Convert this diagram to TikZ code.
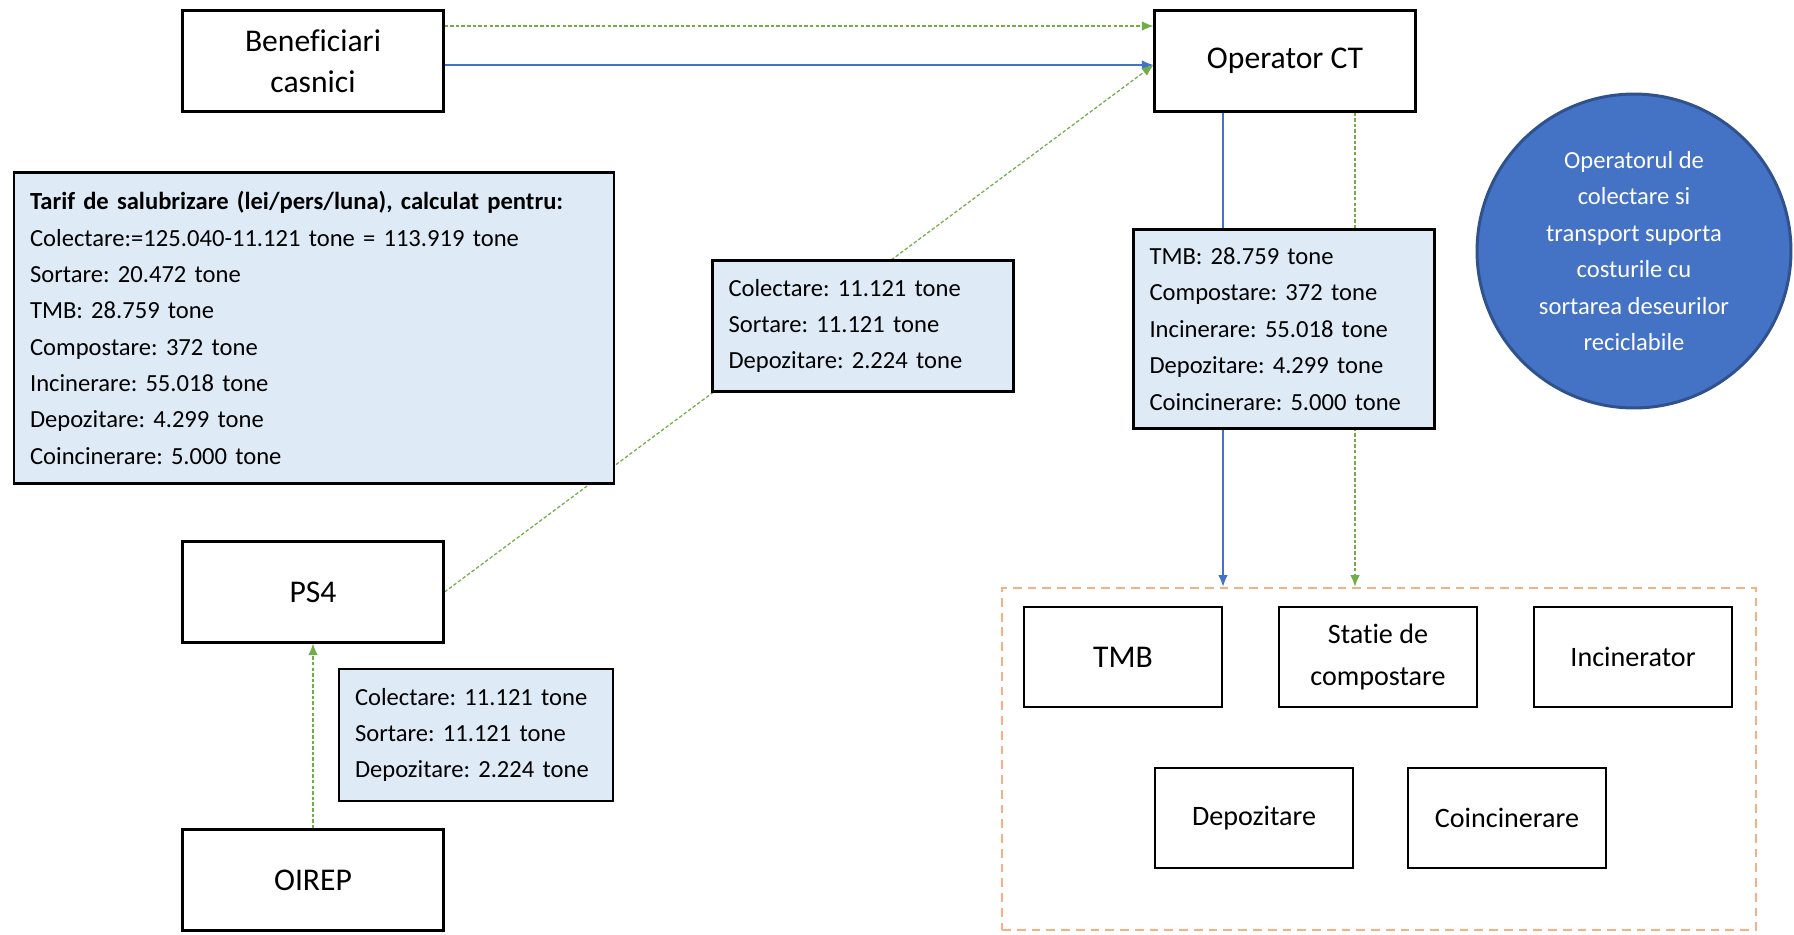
\documentclass[tikz,border=0pt]{standalone}
\usepackage{fontspec}
\setmainfont{Carlito}[Ligatures=NoCommon]
\frenchspacing
\usetikzlibrary{arrows.meta,backgrounds}
\definecolor{verdeflux}{HTML}{70AD47}
\definecolor{albastruflux}{HTML}{4472C4}
\definecolor{albastruinchis}{HTML}{2F528F}
\definecolor{portocaliu}{HTML}{F4B183}
\definecolor{fondcaseta}{HTML}{DEEBF7}
\begin{document}
\begin{tikzpicture}[x=0.02cm,y=-0.02cm,>={Latex[length=2.3mm,width=1.9mm]},
		actor/.style={draw=black, line width=1.2pt, fill=white, minimum width=5.22cm,
			minimum height=2.02cm, inner sep=0pt, align=center, font=\fontsize{18}{23.3}\selectfont},
		instalatie/.style={actor, minimum width=3.96cm, minimum height=2cm,
			font=\fontsize{16}{24}\selectfont},
		cantitati/.style={draw=black, line width=1.2pt, fill=fondcaseta, inner xsep=0.32cm,
			inner ysep=0pt, align=left, font=\fontsize{14}{20.7}\selectfont},
		fluxbani/.style={->, albastruflux, line width=0.7pt},
		fluxdeseu/.style={->, verdeflux, line width=0.7pt, dash pattern=on 2pt off 1.2pt},
		]
	\useasboundingbox (0,0) rectangle (1794,934);
	
	% ── Actori ──
	\node[actor] (benef)    at (313,61)  {Beneficiari\\casnici};
	\node[actor] (operator) at (1285,61) {Operator CT};
	\node[actor] (ps4)      at (313,592) {PS4};
	\node[actor] (oirep)    at (313,880) {OIREP};
	
	% ── Casete cu cantitati ──
	\node[cantitati, text width=11.36cm, minimum height=6.22cm] (tarif) at (314,328)
	{\textbf{Tarif de salubrizare (lei/pers/luna), calculat pentru:}\\
		Colectare:=125.040-11.121 tone = 113.919 tone\\
		Sortare: 20.472 tone\\
		TMB: 28.759 tone\\
		Compostare: 372 tone\\
		Incinerare: 55.018 tone\\
		Depozitare: 4.299 tone\\
		Coincinerare: 5.000 tone};
	\node[cantitati, text width=5.38cm, minimum height=2.62cm] (ps4sus) at (863,326)
	{Colectare: 11.121 tone\\Sortare: 11.121 tone\\Depozitare: 2.224 tone};
	\node[cantitati, text width=5.38cm, minimum height=3.98cm] (opct) at (1284,329)
	{TMB: 28.759 tone\\Compostare: 372 tone\\Incinerare: 55.018 tone\\
		Depozitare: 4.299 tone\\Coincinerare: 5.000 tone};
	\node[cantitati, text width=4.84cm, minimum height=2.64cm] (ps4jos) at (476,735)
	{Colectare: 11.121 tone\\Sortare: 11.121 tone\\Depozitare: 2.224 tone};
	
	% ── Nota (cerc) ──
	\node[circle, draw=albastruinchis, line width=1.7pt, fill=albastruflux, text=white,
	minimum size=6.28cm, inner sep=0pt, align=center,
	font=\fontsize{14}{20.7}\selectfont] (nota) at (1634,251)
	{Operatorul de\\colectare si\\transport suporta\\costurile cu\\sortarea deseurilor\\reciclabile};
	
	% ── Instalatii de tratare ──
	\node[draw=portocaliu, line width=1.6pt, dash pattern=on 5pt off 3.4pt,
	minimum width=15.08cm, minimum height=6.84cm, inner sep=0pt] (zona) at (1379,759) {};
	\node[instalatie, font=\fontsize{18}{23}\selectfont] (tmb) at (1123,657) {TMB};
	\node[instalatie] (compost) at (1378,657) {Statie de\\compostare};
	\node[instalatie] (incin)   at (1633,657) {Incinerator};
	\node[instalatie] (depoz)   at (1254,818) {Depozitare};
	\node[instalatie] (coinc)   at (1507,818) {Coincinerare};
	
	% ── Fluxuri (sub casete) ──
	\begin{pgfonlayer}{background}
		\draw[fluxdeseu] ([yshift=0.7cm]benef.east) -- ([yshift=0.7cm]operator.west);
		\draw[fluxbani] ([yshift=-0.08cm]benef.east) -- ([yshift=-0.08cm]operator.west);
		\draw[fluxdeseu] (ps4.east) -- ([yshift=-0.08cm]operator.west);
		\draw[fluxdeseu] (oirep.north) -- (ps4.south);
		\draw[fluxbani] ([xshift=-1.24cm]operator.south) -- ([xshift=-1.24cm]operator.south |- zona.north);
		\draw[fluxdeseu] ([xshift=1.4cm]operator.south) -- ([xshift=1.4cm]operator.south |- zona.north);
	\end{pgfonlayer}
	
\end{tikzpicture}
\end{document}
